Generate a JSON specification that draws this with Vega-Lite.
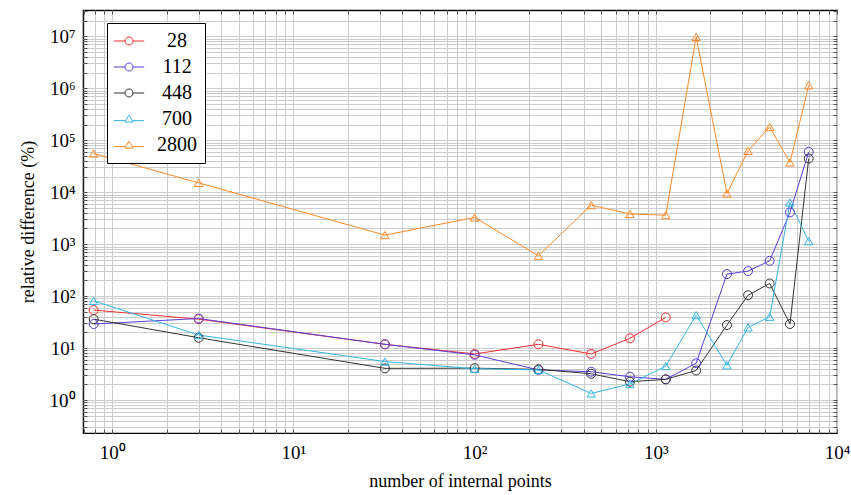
{
  "$schema": "https://vega.github.io/schema/vega-lite/v6.json",
  "width": 754,
  "height": 423,
  "autosize": {"type": "none"},
  "padding": {"left": 83, "top": 10, "right": 14, "bottom": 62},
  "background": "white",
  "config": {
    "font": "Liberation Serif",
    "view": {"stroke": "black", "strokeWidth": 1.2},
    "axis": {
      "gridColor": "#cccccc",
      "gridOpacity": 1,
      "gridWidth": 1,
      "tickColor": "#555555",
      "tickWidth": 1,
      "domain": false,
      "labelFont": "Liberation Serif",
      "titleFont": "Liberation Serif",
      "labelColor": "black",
      "titleColor": "black",
      "titleFontWeight": "normal",
      "labelOverlap": false,
      "labelBound": false,
      "labelFlush": false
    }
  },
  "data": {
    "values": [
      {"n": "28", "x": 0.79, "y": 53.8},
      {"n": "28", "x": 3, "y": 36},
      {"n": "28", "x": 32, "y": 11.8},
      {"n": "28", "x": 100, "y": 7.7},
      {"n": "28", "x": 225, "y": 11.8},
      {"n": "28", "x": 440, "y": 7.7},
      {"n": "28", "x": 720, "y": 15.4},
      {"n": "28", "x": 1135, "y": 38.9},

      {"n": "112", "x": 0.79, "y": 29},
      {"n": "112", "x": 3, "y": 37},
      {"n": "112", "x": 32, "y": 11.8},
      {"n": "112", "x": 100, "y": 7.4},
      {"n": "112", "x": 225, "y": 3.8},
      {"n": "112", "x": 440, "y": 3.5},
      {"n": "112", "x": 720, "y": 2.8},
      {"n": "112", "x": 1135, "y": 2.5},
      {"n": "112", "x": 1670, "y": 5.1},
      {"n": "112", "x": 2470, "y": 265},
      {"n": "112", "x": 3230, "y": 303},
      {"n": "112", "x": 4250, "y": 477},
      {"n": "112", "x": 5500, "y": 4070},
      {"n": "112", "x": 6980, "y": 59700},

      {"n": "448", "x": 0.79, "y": 36},
      {"n": "448", "x": 3, "y": 15.8},
      {"n": "448", "x": 32, "y": 4.07},
      {"n": "448", "x": 100, "y": 4.1},
      {"n": "448", "x": 225, "y": 3.9},
      {"n": "448", "x": 440, "y": 3.2},
      {"n": "448", "x": 720, "y": 2.25},
      {"n": "448", "x": 1135, "y": 2.5},
      {"n": "448", "x": 1670, "y": 3.7},
      {"n": "448", "x": 2470, "y": 27.7},
      {"n": "448", "x": 3230, "y": 104},
      {"n": "448", "x": 4250, "y": 175},
      {"n": "448", "x": 5500, "y": 29},
      {"n": "448", "x": 6980, "y": 44400},

      {"n": "700", "x": 0.79, "y": 81},
      {"n": "700", "x": 3, "y": 17.8},
      {"n": "700", "x": 32, "y": 5.5},
      {"n": "700", "x": 100, "y": 4.0},
      {"n": "700", "x": 225, "y": 3.8},
      {"n": "700", "x": 440, "y": 1.34},
      {"n": "700", "x": 720, "y": 2.03},
      {"n": "700", "x": 1135, "y": 4.5},
      {"n": "700", "x": 1670, "y": 43},
      {"n": "700", "x": 2470, "y": 4.65},
      {"n": "700", "x": 3230, "y": 25},
      {"n": "700", "x": 4250, "y": 40},
      {"n": "700", "x": 5500, "y": 6330},
      {"n": "700", "x": 6980, "y": 1140},

      {"n": "2800", "x": 0.79, "y": 55500},
      {"n": "2800", "x": 3, "y": 15100},
      {"n": "2800", "x": 32, "y": 1490},
      {"n": "2800", "x": 100, "y": 3260},
      {"n": "2800", "x": 225, "y": 597},
      {"n": "2800", "x": 440, "y": 5620},
      {"n": "2800", "x": 720, "y": 3800},
      {"n": "2800", "x": 1135, "y": 3610},
      {"n": "2800", "x": 1670, "y": 9700000},
      {"n": "2800", "x": 2470, "y": 9440},
      {"n": "2800", "x": 3230, "y": 62300},
      {"n": "2800", "x": 4250, "y": 180000},
      {"n": "2800", "x": 5500, "y": 37200},
      {"n": "2800", "x": 6980, "y": 1140000}
    ]
  },
  "resolve": {"axis": {"x": "independent", "y": "independent"}},
  "layer": [
    {
      "mark": {"type": "line", "strokeWidth": 1, "clip": true},
      "encoding": {
        "x": {
          "field": "x", "type": "quantitative",
          "scale": {"type": "log", "domain": [0.69, 10000], "nice": false, "zero": false},
          "axis": {
            "orient": "bottom",
            "title": "number of internal points",
            "titleFontSize": 18,
            "titlePadding": 10,
            "labelFontSize": 19,
            "labelPadding": 14,
            "tickSize": -4,
            "values": [0.7, 0.8, 0.9, 1, 2, 3, 4, 5, 6, 7, 8, 9, 10, 20, 30, 40, 50, 60, 70, 80, 90, 100, 200, 300, 400, 500, 600, 700, 800, 900, 1000, 2000, 3000, 4000, 5000, 6000, 7000, 8000, 9000, 10000],
            "labelExpr": "indexof([1, 10, 100, 1000, 10000], datum.value) >= 0 ? '10' + ['⁰', '¹', '²', '³', '⁴'][round(log(datum.value) / LN10)] : ''"
          }
        },
        "y": {
          "field": "y", "type": "quantitative",
          "scale": {"type": "log", "domain": [0.232, 32000000], "nice": false, "zero": false},
          "axis": {
            "orient": "left",
            "title": "relative difference (%)",
            "titleFontSize": 18,
            "titlePadding": 12,
            "labelFontSize": 19,
            "labelPadding": 12,
            "tickSize": -4,
            "values": [0.3, 0.4, 0.5, 0.6, 0.7, 0.8, 0.9, 1, 2, 3, 4, 5, 6, 7, 8, 9, 10, 20, 30, 40, 50, 60, 70, 80, 90, 100, 200, 300, 400, 500, 600, 700, 800, 900, 1000, 2000, 3000, 4000, 5000, 6000, 7000, 8000, 9000, 10000, 20000, 30000, 40000, 50000, 60000, 70000, 80000, 90000, 100000, 200000, 300000, 400000, 500000, 600000, 700000, 800000, 900000, 1000000, 2000000, 3000000, 4000000, 5000000, 6000000, 7000000, 8000000, 9000000, 10000000, 20000000, 30000000],
            "labelExpr": "indexof([1, 10, 100, 1000, 10000, 100000, 1000000, 10000000], datum.value) >= 0 ? '10' + ['⁰', '¹', '²', '³', '⁴', '⁵', '⁶', '⁷'][round(log(datum.value) / LN10)] : ''"
          }
        },
        "color": {
          "field": "n", "type": "nominal",
          "scale": {
            "domain": ["28", "112", "448", "700", "2800"],
            "range": ["#f2302f", "#5a3cd6", "#333333", "#33b5e8", "#ff8a24"]
          },
          "legend": {
            "title": null,
            "orient": "none",
            "legendX": 24,
            "legendY": 13,
            "padding": 8,
            "strokeColor": "black",
            "fillColor": "white",
            "cornerRadius": 0,
            "labelFont": "Liberation Serif",
            "labelFontSize": 20,
            "labelColor": "black",
            "labelAlign": "center",
            "labelOffset": 38,
            "symbolSize": 256,
            "symbolOffset": 4,
            "symbolStrokeWidth": 1,
            "rowPadding": 6,
            "encode": {
              "symbols": {
                "update": {
                  "fill": {"value": "transparent"},
                  "strokeWidth": {"value": 1},
                  "shape": {"signal": "datum.value === '700' || datum.value === '2800' ? 'M-1.9,0.2H-0.5M0.5,0.2H1.9M0,-0.5L0.52,0.38H-0.52Z' : 'M-1.9,0H-0.5M0.5,0H1.9M0.5,0A0.5,0.5 0 1,1 -0.5,0A0.5,0.5 0 1,1 0.5,0'"}
                }
              }
            }
          }
        },
        "order": {"field": "x", "type": "quantitative"}
      }
    },
    {
      "transform": [{"filter": "datum.n === '28' || datum.n === '112' || datum.n === '448'"}],
      "mark": {"type": "point", "shape": "circle", "filled": false, "strokeWidth": 1, "size": 80, "opacity": 1, "clip": true},
      "encoding": {
        "x": {
          "field": "x", "type": "quantitative",
          "axis": {
            "orient": "top", "title": null, "labels": false, "grid": false, "tickSize": -4,
            "values": [0.7, 0.8, 0.9, 1, 2, 3, 4, 5, 6, 7, 8, 9, 10, 20, 30, 40, 50, 60, 70, 80, 90, 100, 200, 300, 400, 500, 600, 700, 800, 900, 1000, 2000, 3000, 4000, 5000, 6000, 7000, 8000, 9000, 10000]
          }
        },
        "y": {
          "field": "y", "type": "quantitative",
          "axis": {
            "orient": "right", "title": null, "labels": false, "grid": false, "tickSize": -4,
            "values": [0.3, 0.4, 0.5, 0.6, 0.7, 0.8, 0.9, 1, 2, 3, 4, 5, 6, 7, 8, 9, 10, 20, 30, 40, 50, 60, 70, 80, 90, 100, 200, 300, 400, 500, 600, 700, 800, 900, 1000, 2000, 3000, 4000, 5000, 6000, 7000, 8000, 9000, 10000, 20000, 30000, 40000, 50000, 60000, 70000, 80000, 90000, 100000, 200000, 300000, 400000, 500000, 600000, 700000, 800000, 900000, 1000000, 2000000, 3000000, 4000000, 5000000, 6000000, 7000000, 8000000, 9000000, 10000000, 20000000, 30000000]
          }
        },
        "color": {"field": "n", "type": "nominal"}
      }
    },
    {
      "transform": [{"filter": "datum.n === '700' || datum.n === '2800'"}],
      "mark": {"type": "point", "shape": "triangle-up", "filled": false, "strokeWidth": 1, "size": 70, "opacity": 1, "clip": true},
      "encoding": {
        "x": {"field": "x", "type": "quantitative", "axis": null},
        "y": {"field": "y", "type": "quantitative", "axis": null},
        "color": {"field": "n", "type": "nominal"}
      }
    }
  ]
}
